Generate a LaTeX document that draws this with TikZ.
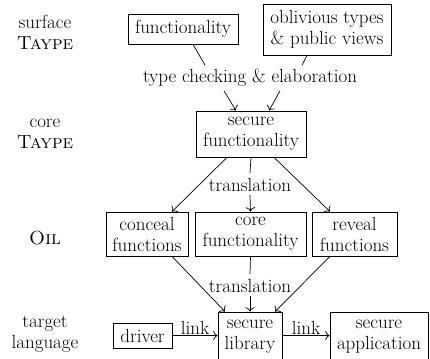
\documentclass[tikz,border=0pt]{standalone}
\usepackage{fontspec}
\usetikzlibrary{calc,arrows.meta}
\begin{document}
\begin{tikzpicture}[x=1pt,y=-1pt,
  every node/.style={font=\fontsize{19}{21}\selectfont, align=center, inner sep=2pt},
  box/.style={draw, line width=0.8pt, minimum width=#1},
  lbl/.style={},
  conn/.style={line width=0.7pt},
  arr/.style={line width=0.7pt, -{To[scale=1.4]}}]
\useasboundingbox (0,0) rectangle (430,358);
\clip (0,0) rectangle (430,358);
% left labels
\node[lbl] (l1) at (45,32) {surface\\\textsc{Taype}};
\node[lbl] (l2) at (45,134) {core\\\textsc{Taype}};
\node[lbl] (l3) at (45,238) {\textsc{Oil}};
\node[lbl] (l4) at (45,334) {target\\language};
% nodes
\node[box=110pt, minimum height=30pt] (func) at (183,29) {functionality};
\node[box=128pt, minimum height=51pt] (obl) at (327,29.5) {oblivious types\\\& public views};
\node (tc) at (250,78) {type checking \& elaboration};
\node[box=110pt, minimum height=46pt] (sf) at (251,134) {secure\\functionality};
\node (tr1) at (250,185) {translation};
\node[box=82pt, minimum height=44pt] (conc) at (147,234) {conceal\\functions};
\node[box=111pt, minimum height=44pt] (core) at (250.5,234) {core\\functionality};
\node[box=85pt, minimum height=44pt] (rev) at (354.5,234) {reveal\\functions};
\node (tr2) at (250,286) {translation};
\node[box=64pt, minimum height=50pt] (sl) at (250,337) {secure\\library};
\node[box=59pt, minimum height=25pt] (drv) at (142.5,335.5) {driver};
\node[box=98pt, minimum height=50pt] (app) at (379,337) {secure\\application};
% connectors
\draw[conn] ([xshift=10pt]func.south) -- ([xshift=-45pt,yshift=2pt]tc.north);
\draw[conn] ([xshift=-20pt]obl.south) -- ([xshift=52pt,yshift=2pt]tc.north);
\draw[arr] ([xshift=-26pt,yshift=-2pt]tc.south) -- ([xshift=-15pt]sf.north);
\draw[arr] ([xshift=30pt,yshift=-2pt]tc.south) -- ([xshift=18pt]sf.north);
\draw[arr] ([xshift=-24pt]sf.south) -- ([xshift=25pt]conc.north);
\draw[conn] (sf.south) -- ([yshift=3pt]tr1.north);
\draw[arr] ([yshift=-1pt]tr1.south) -- (core.north);
\draw[arr] ([xshift=23pt]sf.south) -- ([xshift=-24.5pt]rev.north);
\draw[arr] ([xshift=25pt]conc.south) -- ([xshift=-25pt]sl.north);
\draw[conn] (core.south) -- ([yshift=3pt]tr2.north);
\draw[arr] ([yshift=-1pt]tr2.south) -- (sl.north);
\draw[arr] ([xshift=-24.5pt]rev.south) -- ([xshift=25pt]sl.north);
\draw[arr] (drv.east) -- node[above, inner sep=1pt] (k1) {link} (drv.east -| sl.west);
\draw[arr] (drv.east -| sl.east) -- node[above, inner sep=1pt] (k2) {link} (drv.east -| app.west);
\end{tikzpicture}
\end{document}
